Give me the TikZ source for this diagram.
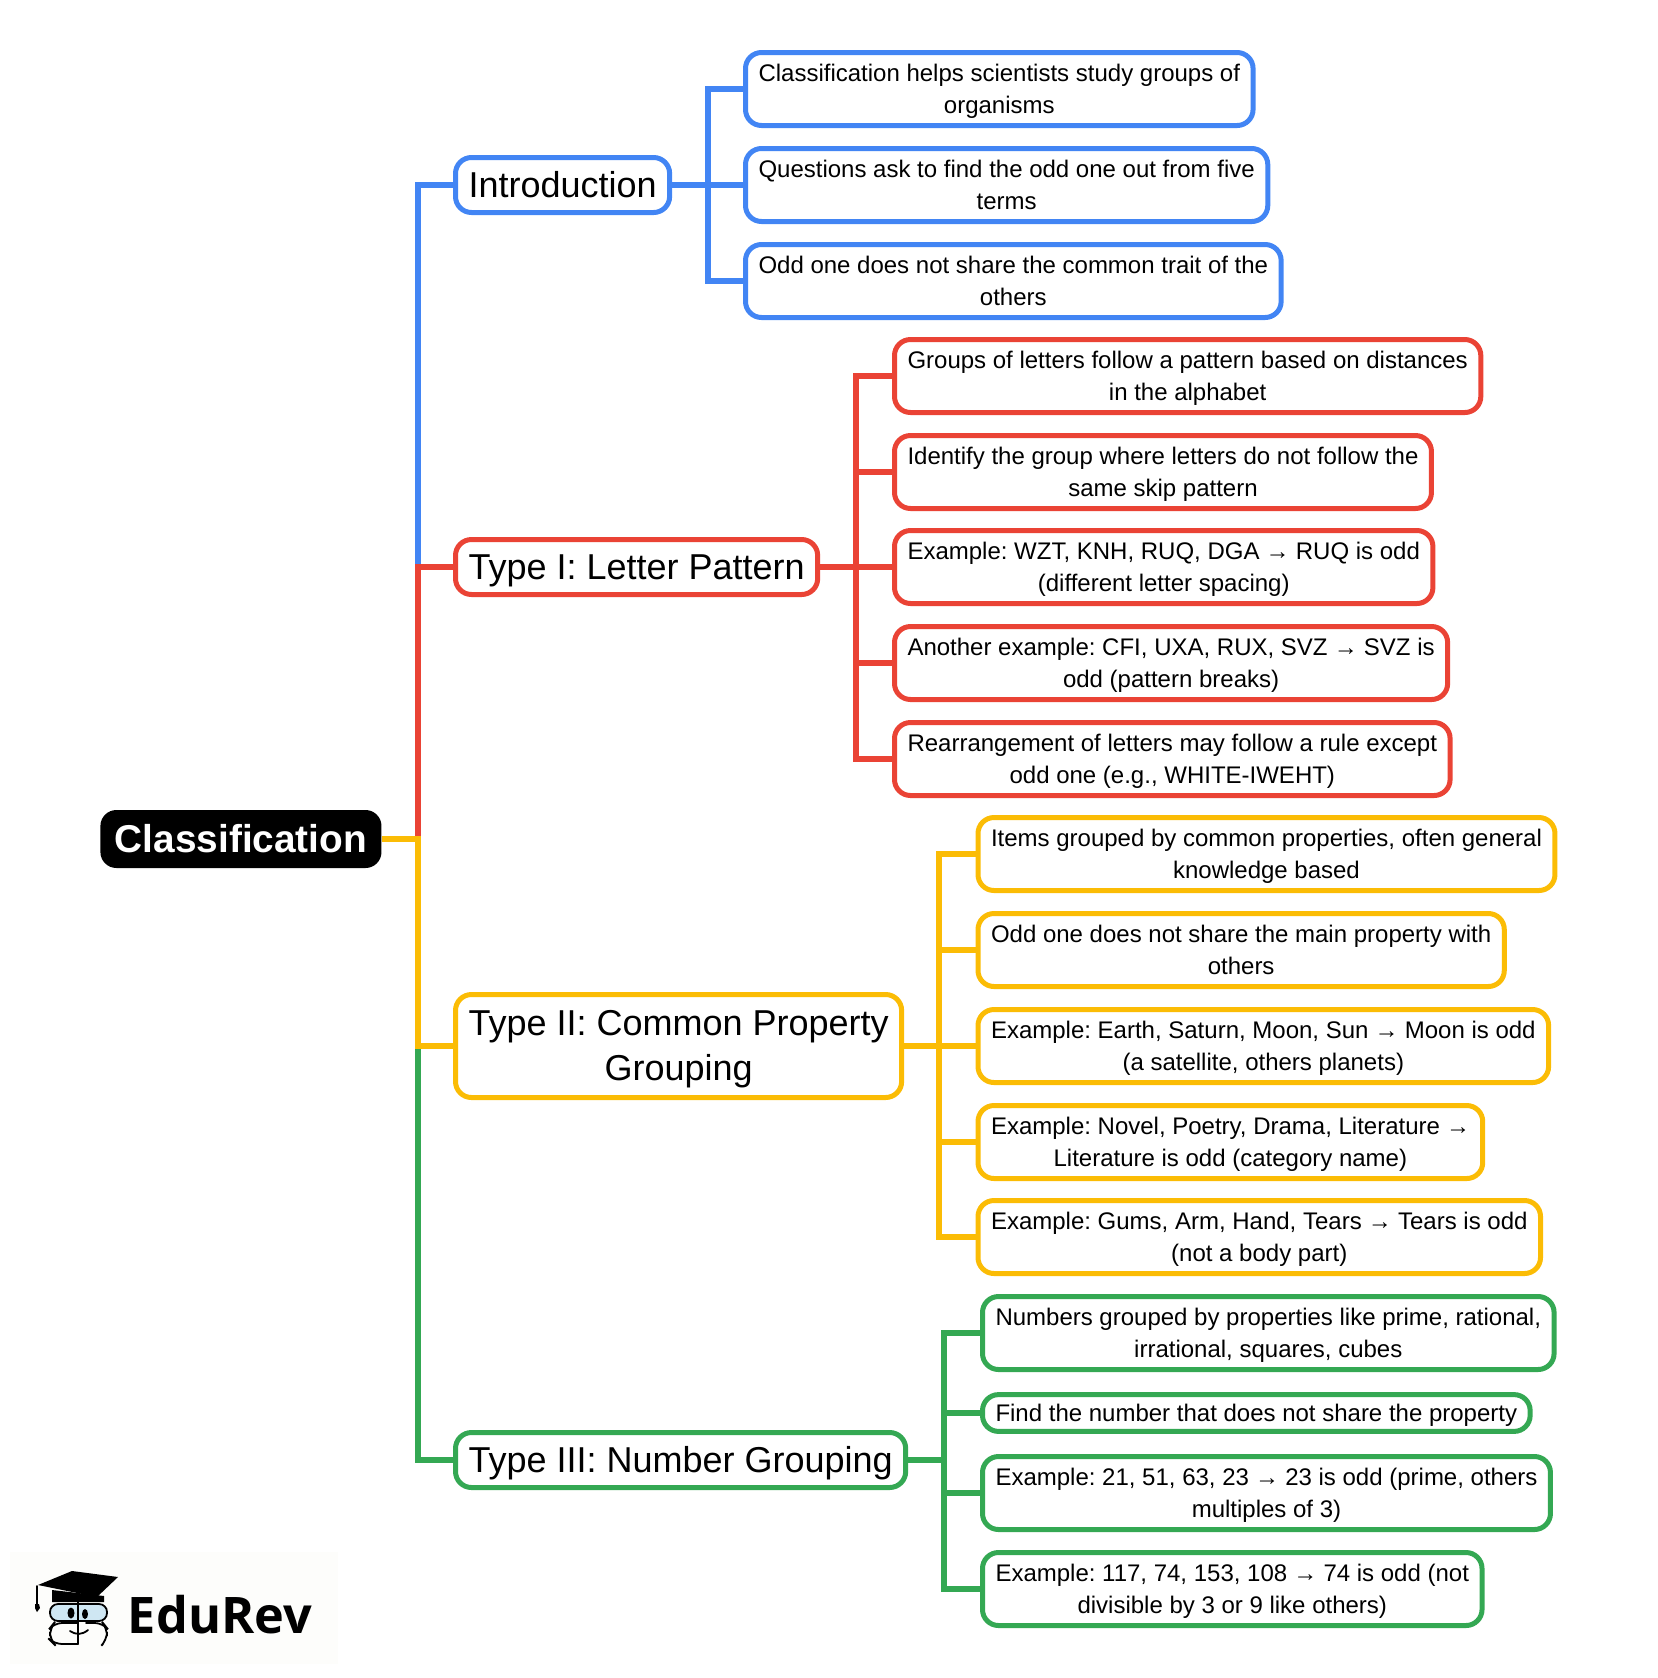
\documentclass[tikz,border=0pt]{standalone}
\usepackage{fontspec}
\setmainfont{Liberation Sans}
\newfontfamily\logofont{Open Sans}
\usetikzlibrary{positioning}
\definecolor{gblue}{HTML}{4285F4}
\definecolor{gred}{HTML}{EA4335}
\definecolor{gyellow}{HTML}{FBBC05}
\definecolor{ggreen}{HTML}{34A853}
\definecolor{logoblue}{HTML}{CFE7F3}
\definecolor{logoback}{HTML}{FDFDFB}
\newcommand{\nextarr}{\kern-0.25pt→\kern-0.25pt}
\tikzset{
    rootnode/.style = {rectangle, rounded corners=8pt, fill=black, text=white, anchor=west, inner xsep=7.2pt, minimum height=29pt, font=\fontsize{19.4}{23}\selectfont\bfseries},
    typenode/.style = {rectangle, rounded corners=8pt, line width=2.5pt, fill=white, anchor=west, align=center, inner xsep=6.5pt, inner ysep=4pt, minimum height=27.5pt, text height=15pt, text depth=3pt, font=\fontsize{18}{22.5}\selectfont\frenchspacing},
    leafnode/.style = {rectangle, rounded corners=8pt, line width=2.5pt, fill=white, anchor=west, align=center, inner xsep=6.5pt, inner ysep=2pt, minimum height=36.5pt, text height=27.2pt, text depth=3.2pt, font=\fontsize{12}{15.8}\selectfont\frenchspacing},
    typeb/.style = {typenode, draw=gblue},
    typer/.style = {typenode, draw=gred},
    typey/.style = {typenode, draw=gyellow},
    typeg/.style = {typenode, draw=ggreen},
    leafb/.style = {leafnode, draw=gblue},
    leafr/.style = {leafnode, draw=gred},
    leafy/.style = {leafnode, draw=gyellow},
    leafg/.style = {leafnode, draw=ggreen},
    edgeb/.style = {line width=3pt, gblue},
    edger/.style = {line width=3pt, gred},
    edgey/.style = {line width=3pt, gyellow},
    edgeg/.style = {line width=3pt, ggreen},
    logoline/.style = {line width=0.9pt, black, line cap=round}
}

\begin{document}
\begin{tikzpicture}[x=0.5pt, y=-0.5pt]
  \useasboundingbox (0,0) rectangle (1658,1678);

  % centre of the map
  \node[rootnode] at (100,839) (root) {Classification};
  \coordinate (spine) at (418,839);

  % main branches
  \node[typeb] at (453,185) (intro) {Introduction};
  \node[typer] at (453,567) (letter) {Type I: Letter Pattern};
  \node[typey, minimum height=51.5pt, text height=37.8pt, text depth=3.8pt] at (453,1046) (common) {Type II: Common Property\\Grouping};
  \node[typeg] at (453,1460) (number) {Type III: Number Grouping};

  % blue leaves
  \coordinate (spineb) at (708,185);
  \node[leafb] at (743,89) (b1) {Classification helps scientists study groups of\\organisms};
  \node[leafb] at (743,185) (b2) {Questions ask to find the odd one out from five\\terms};
  \node[leafb] at (743,281) (b3) {Odd one does not share the common trait of the\\others};

  % red leaves
  \coordinate (spiner) at (856,567);
  \node[leafr] at (892,376) (r1) {Groups of letters follow a pattern based on distances\\in the alphabet};
  \node[leafr] at (892,472) (r2) {Identify the group where letters do not follow the\\same skip pattern};
  \node[leafr] at (892,567) (r3) {Example: WZT, KNH, RUQ, DGA \nextarr{} RUQ is odd\\(different letter spacing)};
  \node[leafr] at (892,663) (r4) {Another example: CFI, UXA, RUX, SVZ \nextarr{} SVZ is\\odd (pattern breaks)};
  \node[leafr] at (892,759) (r5) {Rearrangement of letters may follow a rule except\\odd one (e.g., WHITE-IWEHT)};

  % yellow leaves
  \coordinate (spiney) at (939,1046);
  \node[leafy] at (975.5,854) (y1) {Items grouped by common properties, often general\\knowledge based};
  \node[leafy] at (975.5,950) (y2) {Odd one does not share the main property with\\others};
  \node[leafy] at (975.5,1046) (y3) {Example: Earth, Saturn, Moon, Sun \nextarr{} Moon is odd\\(a satellite, others planets)};
  \node[leafy] at (975.5,1142) (y4) {Example: Novel, Poetry, Drama, Literature \nextarr{}\\Literature is odd (category name)};
  \node[leafy] at (975.5,1237) (y5) {Example: Gums, Arm, Hand, Tears \nextarr{} Tears is odd\\(not a body part)};

  % green leaves
  \coordinate (spineg) at (944,1460);
  \node[leafg] at (980,1333) (g1) {Numbers grouped by properties like prime, rational,\\irrational, squares, cubes};
  \node[leafg, minimum height=18.4pt, text height=10pt, text depth=2pt] at (980,1413) (g2) {Find the number that does not share the property};
  \node[leafg] at (980,1493) (g3) {Example: 21, 51, 63, 23 \nextarr{} 23 is odd (prime, others\\multiples of 3)};
  \node[leafg] at (980,1589) (g4) {Example: 117, 74, 153, 108 \nextarr{} 74 is odd (not\\divisible by 3 or 9 like others)};

  % connectors
  \draw[edgeg] (root.east) -- (spine) |- (number.west);
  \draw[edgeb] (root.east) -- (spine) |- (intro.west);
  \draw[edger] (root.east) -- (spine) |- (letter.west);
  \draw[edgey] (root.east) -- (spine) |- (common.west);
  \draw[edgeb] (intro.east) -- (spineb) |- (b1.west);
  \draw[edgeb] (spineb) -- (b2.west);
  \draw[edgeb] (spineb) |- (b3.west);
  \draw[edger] (letter.east) -- (spiner) |- (r1.west);
  \draw[edger] (spiner) |- (r2.west);
  \draw[edger] (spiner) -- (r3.west);
  \draw[edger] (spiner) |- (r4.west);
  \draw[edger] (spiner) |- (r5.west);
  \draw[edgey] (common.east) -- (spiney) |- (y1.west);
  \draw[edgey] (spiney) |- (y2.west);
  \draw[edgey] (spiney) -- (y3.west);
  \draw[edgey] (spiney) |- (y4.west);
  \draw[edgey] (spiney) |- (y5.west);
  \draw[edgeg] (number.east) -- (spineg) |- (g1.west);
  \draw[edgeg] (spineg) |- (g2.west);
  \draw[edgeg] (spineg) |- (g3.west);
  \draw[edgeg] (spineg) |- (g4.west);

  % logo
  \fill[logoback] (10,1552) rectangle (338,1664);
  \fill (52,1590) -- (52,1602) -- (104,1602) -- (104,1596) -- cycle;
  \fill[logoblue, rounded corners=4pt] (50,1604) rectangle (107,1621);
  \draw[logoline, rounded corners=4pt] (50,1604) rectangle (107,1621);
  \draw[logoline, rounded corners=4pt] (78,1644) -- (54,1644) -- (50,1640) -- (50,1628) -- (54,1623) -- (78,1623);
  \draw[logoline, rounded corners=4pt] (86,1623) -- (103,1623) -- (107,1628) -- (107,1640) -- (103,1644);
  \draw[logoline] (78,1602) -- (78,1644);
  \draw[logoline] (70,1631) .. controls (76,1635) and (82,1635) .. (88,1630);
  \fill (71,1613) ellipse (3.5 and 5.5);
  \fill (85,1614) ellipse (3 and 5);
  \fill (38,1585) -- (72,1571) -- (118,1577) -- (97,1597) -- cycle;
  \draw[logoline] (37,1586) -- (37,1605);
  \fill (35,1604) -- (39,1604) -- (40,1608) -- (37,1612) -- (35,1608) -- cycle;
  \node[anchor=base west, inner sep=0pt, font=\fontsize{25.2}{30}\logofont\bfseries] at (127.5,1633) (logo) {EduRev};
\end{tikzpicture}
\end{document}
